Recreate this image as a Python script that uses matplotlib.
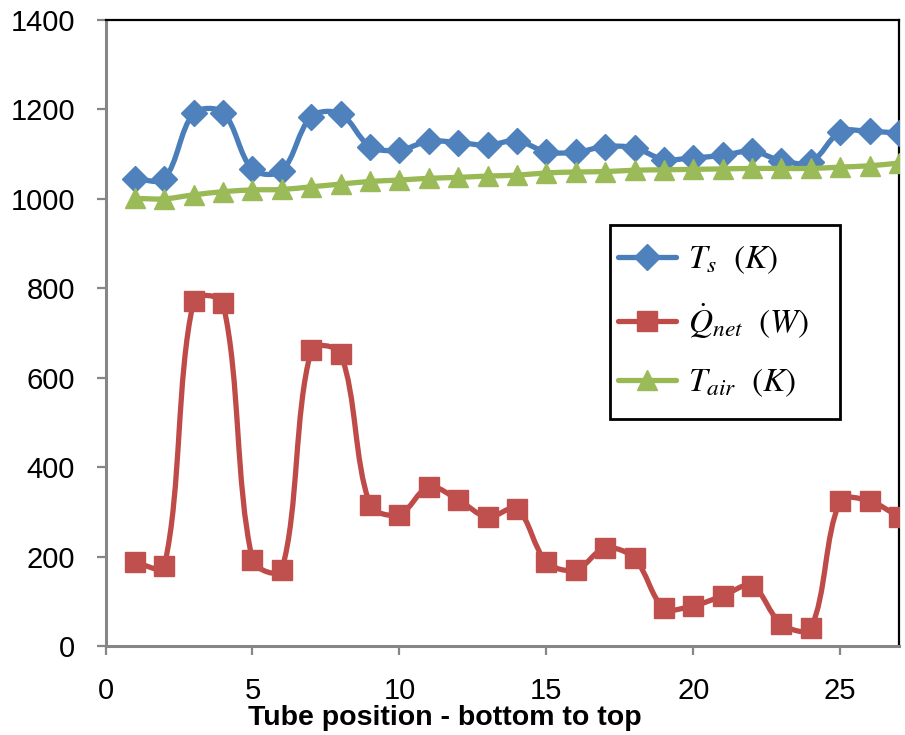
import numpy as np
import matplotlib
matplotlib.use("Agg")
import matplotlib.pyplot as plt
from matplotlib.path import Path
from matplotlib.patches import PathPatch, Rectangle
from matplotlib.lines import Line2D

# Tube positions, bottom (1) to top (27)
position = list(range(1, 28))

# Surface temperature (K)
t_surface = [1045, 1045, 1191, 1193, 1066, 1063, 1184, 1190, 1117, 1109,
             1129, 1126, 1120, 1130, 1105, 1104, 1117, 1114, 1088, 1092,
             1097, 1107, 1085, 1082, 1150, 1151, 1147]

# Net heat transfer (W)
q_net = [187, 178, 772, 766, 192, 170, 661, 654, 316, 294,
         356, 327, 288, 307, 188, 170, 219, 196, 85, 90,
         112, 135, 49, 40, 324, 324, 289]

# Air temperature (K)
t_air = [1001, 1000, 1009, 1016, 1020, 1021, 1027, 1033, 1039, 1042,
         1046, 1048, 1051, 1053, 1058, 1060, 1061, 1064, 1065, 1066,
         1067, 1068, 1068, 1068, 1071, 1074, 1080]

x_ticks = [0, 5, 10, 15, 20, 25]
y_ticks = [0, 200, 400, 600, 800, 1000, 1200, 1400]

TICK_FONT = ["Liberation Sans", "DejaVu Sans"]

plt.rcParams["mathtext.fontset"] = "stix"


def smooth_path(ax, xs, ys, tension=1.0 / 3.0):
    """Smoothed cubic Bezier path through the points.

    Tangents are weighted by chord lengths measured on screen, so short
    segments next to steep jumps stay tight instead of overshooting.
    """
    pts = ax.transData.transform(np.column_stack([xs, ys]).astype(float))
    n = len(pts)
    verts = [pts[0]]
    codes = [Path.MOVETO]
    for i in range(n - 1):
        p0 = pts[i - 1] if i > 0 else pts[i]
        p1 = pts[i]
        p2 = pts[i + 1]
        p3 = pts[i + 2] if i + 2 < n else pts[i + 1]
        d0 = np.hypot(*(p1 - p0))
        d1 = np.hypot(*(p2 - p1))
        d2 = np.hypot(*(p3 - p2))
        w1 = d1 / (d0 + d1) if d0 + d1 > 0 else 0.0
        w2 = d1 / (d1 + d2) if d1 + d2 > 0 else 0.0
        c1 = p1 + (p2 - p0) * w1 * tension
        c2 = p2 - (p3 - p1) * w2 * tension
        verts += [c1, c2, p2]
        codes += [Path.CURVE4] * 3
    verts = ax.transData.inverted().transform(np.array(verts))
    return Path(verts, codes)


fig = plt.figure(figsize=(9.05, 7.35), dpi=100)
ax = fig.add_axes([105.5 / 905, 1 - 646 / 735, 793.5 / 905, 626 / 735])
ax.set_xlim(0, 27)
ax.set_ylim(0, 1400)
ax.set_xticks(x_ticks)
ax.set_yticks(y_ticks)

series = [
    (t_surface, "#4A7EBB", "#4F81BD", "D", 13, r"$T_s\ \ (K)$"),
    (q_net, "#BE4B48", "#C0504D", "s", 14, r"$\dot{Q}_{net}\ \ (W)$"),
    (t_air, "#98B954", "#9BBB59", "^", 15, r"$T_{air}\ \ (K)$"),
]

handles = []
for k, (vals, lc, mc, mk, ms, lab) in enumerate(series):
    patch = PathPatch(smooth_path(ax, position, vals), facecolor="none",
                      edgecolor=lc, lw=3.8, capstyle="round",
                      joinstyle="round", zorder=2 + 2 * k)
    ax.add_patch(patch)
    ax.plot(position, vals, linestyle="none", marker=mk, ms=ms,
            markerfacecolor=mc, markeredgecolor=mc, zorder=3 + 2 * k)
    handles.append(Line2D([], [], color=lc, lw=3.8, marker=mk, ms=ms,
                          markerfacecolor=mc, markeredgecolor=mc,
                          solid_capstyle="round", label=lab))

for side in ("left", "bottom"):
    ax.spines[side].set_color("#868686")
    ax.spines[side].set_linewidth(2.2)
for side in ("top", "right"):
    ax.spines[side].set_color("black")
    ax.spines[side].set_linewidth(1.6)

ax.tick_params(axis="both", direction="out", length=6.5, width=1.6,
               color="#868686", labelsize=21)
ax.tick_params(axis="y", pad=15.5)
ax.tick_params(axis="x", pad=15.5)
for lbl in ax.get_xticklabels() + ax.get_yticklabels():
    lbl.set_family(TICK_FONT)

fig.text(445 / 905, 1 - 718 / 735, "Tube position - bottom to top",
         ha="center", va="center", fontsize=20.5, fontweight="bold",
         family=TICK_FONT)

# Legend box drawn as its own rectangle, entries placed inside it
box = Rectangle((610 / 905, 1 - 419 / 735), 230 / 905, 194 / 735,
                transform=fig.transFigure, facecolor="white",
                edgecolor="black", lw=2.0, zorder=20, clip_on=False)
ax.add_patch(box)
leg = ax.legend(handles=handles, loc="center left",
                bbox_to_anchor=(618 / 905, 1 - 321 / 735),
                bbox_transform=fig.transFigure, borderaxespad=0,
                borderpad=0, fontsize=24, frameon=False,
                handlelength=1.75, handletextpad=0.36, labelspacing=0.75)
leg.set_zorder(30)

fig.savefig("out.png", dpi=100, facecolor="white")
